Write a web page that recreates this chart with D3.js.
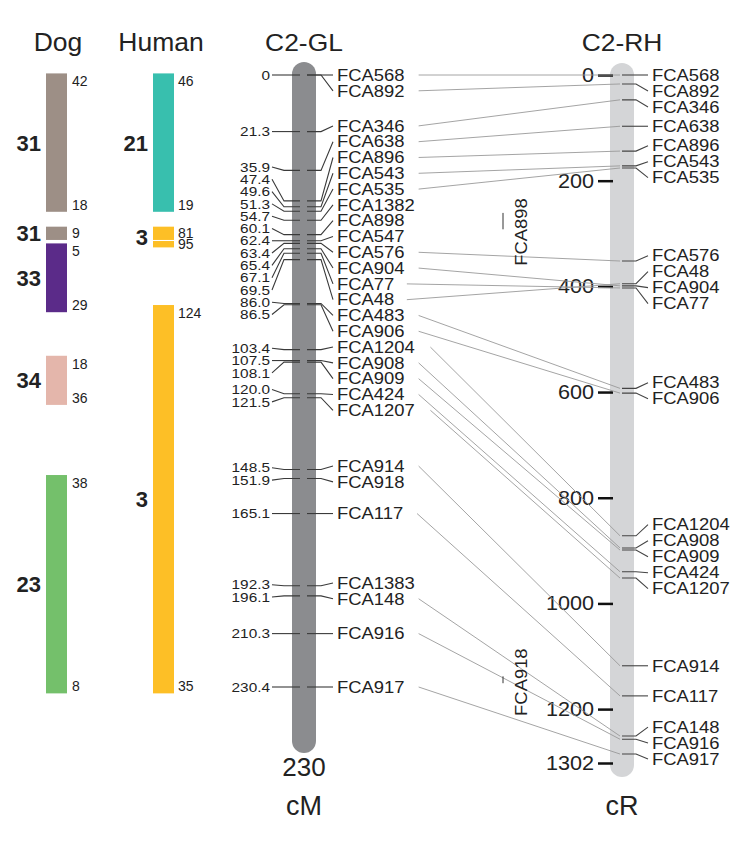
<!DOCTYPE html>
<html><head><meta charset="utf-8">
<script src="https://cdn.jsdelivr.net/npm/d3@7"></script>
<style>body{margin:0;background:#fff}svg{display:block}text{font-family:"Liberation Sans",Arial,sans-serif;fill:#222}</style>
</head><body>
<script>
// ---------- data ----------
const glMarkers = ["FCA568","FCA892","FCA346","FCA638","FCA896","FCA543","FCA535","FCA1382","FCA898","FCA547","FCA576","FCA904","FCA77","FCA48","FCA483","FCA906","FCA1204","FCA908","FCA909","FCA424","FCA1207","FCA914","FCA918","FCA117","FCA1383","FCA148","FCA916","FCA917"];
const glCM = [0,0,21.3,35.9,47.4,49.6,51.3,54.7,60.1,62.4,63.4,65.4,67.1,69.5,86.0,86.5,103.4,107.5,108.1,120.0,121.5,148.5,151.9,165.1,192.3,196.1,210.3,230.4];
const glLength = "230";
const rhMarkers = ["FCA568","FCA892","FCA346","FCA638","FCA896","FCA543","FCA535","FCA576","FCA48","FCA904","FCA77","FCA483","FCA906","FCA1204","FCA908","FCA909","FCA424","FCA1207","FCA914","FCA117","FCA148","FCA916","FCA917"];
const rhCR = [0,17,47,97,144,172,176,352,395,399,403,593,602,872,895,899,940,952,1118,1175,1251,1257,1285];
const rhTicks = [0,200,400,600,800,1000,1200,1302];
const rhFloating = ["FCA898","FCA918"];
const rhFloatingCR = [297,1149];
const rhFloatingBarFrom = [261,1138];
const rhFloatingBarTo = [292,1151];

const dogChr = ["31","31","33","34","23"];
const dogFrom = [-0.6,57.1,63.4,105.7,150.6];
const dogTo = [51.5,62.1,89.3,124.2,232.8];
const dogTopLbl = ["42","9","5","18","38"];
const dogBotLbl = ["18","","29","36","8"];

const humChr = ["21","3","3","3"];
const humFrom = [-0.6,57.1,62.5,86.6];
const humTo = [51.5,62.1,64.9,232.8];
const humTopLbl = ["46","81","95","124"];
const humBotLbl = ["19","","","35"];

// ---------- styles ----------
const dogColor = {"31":"#9d8f86","33":"#5b2b89","34":"#e4b6ab","23":"#74c06b"};
const humColor = {"21":"#38bfae","3":"#fdbf26"};

const W = 750, H = 841;
const svg = d3.select("body").append("svg").attr("width",W).attr("height",H);

const yGL = d3.scaleLinear().domain([0,230.4]).range([75,687]);
const yRH = d3.scaleLinear().domain([0,1302]).range([75,763]);

function stretch(sel,k){
  sel.each(function(){
    const w = this.getComputedTextLength();
    d3.select(this).attr("textLength",w*k).attr("lengthAdjust","spacingAndGlyphs");
  });
  return sel;
}
// non-overlapping label layout: clusters centred on mean or median of their targets
function spread(targets,gap,minY,mode){
  const centre = arr => {
    if(mode==="median"){ const s=arr.slice().sort((a,b)=>a-b),n=s.length; return n%2?s[(n-1)/2]:(s[n/2-1]+s[n/2])/2; }
    return d3.mean(arr);
  };
  const clusters=[];
  targets.forEach((t,i)=>{
    clusters.push({idx:[i],top:Math.max(minY,t)});
    while(clusters.length>1){
      const b=clusters[clusters.length-1],a=clusters[clusters.length-2];
      if(a.top+a.idx.length*gap>b.top+0.01){
        const idx=a.idx.concat(b.idx);
        let top=centre(idx.map(j=>targets[j]))-(idx.length-1)*gap/2;
        top=Math.max(minY,top);
        clusters.splice(-2,2,{idx,top});
      } else break;
    }
  });
  const pos=new Array(targets.length);
  clusters.forEach(c=>c.idx.forEach((i,k)=>pos[i]=c.top+k*gap));
  return pos;
}

// ---------- left panel: Dog / Human ----------
stretch(svg.append("text").attr("x",58).attr("y",51).attr("text-anchor","middle").attr("font-size",25).text("Dog"),1.06);
stretch(svg.append("text").attr("x",161).attr("y",51).attr("text-anchor","middle").attr("font-size",25).text("Human"),1.06);

function drawSpecies(chr,from,to,topL,botL,colors,x0,w,lblX,chrX){
  const g=svg.append("g");
  chr.forEach((c,i)=>{
    const y0=yGL(from[i]),y1=yGL(to[i]);
    g.append("rect").attr("x",x0).attr("y",y0).attr("width",w).attr("height",y1-y0).attr("fill",colors[c]);
    if(y1-y0<20){
      g.append("text").attr("x",lblX).attr("y",(y0+y1)/2).attr("dy","0.36em").attr("font-size",14).text(topL[i]);
    } else {
      g.append("text").attr("x",lblX).attr("y",y0+8).attr("dy","0.36em").attr("font-size",14).text(topL[i]);
      g.append("text").attr("x",lblX).attr("y",y1-7).attr("dy","0.36em").attr("font-size",14).text(botL[i]);
    }
  });
  const groups=[];
  chr.forEach((c,i)=>{
    const last=groups[groups.length-1];
    if(last&&last.c===c&&from[i]-last.to<1){last.to=to[i];}
    else groups.push({c,from:from[i],to:to[i]});
  });
  groups.forEach(gr=>{
    g.append("text").attr("x",chrX).attr("y",(yGL(gr.from)+yGL(gr.to))/2).attr("dy","0.36em")
      .attr("text-anchor","end").attr("font-size",22).attr("font-weight","bold").attr("fill","#111").text(gr.c);
  });
}
drawSpecies(dogChr,dogFrom,dogTo,dogTopLbl,dogBotLbl,dogColor,46,21,72,41);
drawSpecies(humChr,humFrom,humTo,humTopLbl,humBotLbl,humColor,153,21,178,148);

// ---------- C2-GL ----------
const glX=304;
stretch(svg.append("text").attr("x",glX).attr("y",51).attr("text-anchor","middle").attr("font-size",24).text("C2-GL"),1.1);
svg.append("rect").attr("x",glX-12).attr("y",yGL(0)-13).attr("width",24).attr("height",753-(yGL(0)-13)).attr("rx",12).attr("fill","#8b8c8f");
svg.append("text").attr("x",glX).attr("y",776).attr("text-anchor","middle").attr("font-size",26).text(glLength);
svg.append("text").attr("x",glX).attr("y",815).attr("text-anchor","middle").attr("font-size",27).text("cM");

const lineCol="#3a3a3a";
const uniqCM = Array.from(new Set(glCM));
const numPos = spread(uniqCM.map(yGL),12.3,75,"median");
uniqCM.forEach((v,i)=>{
  const ty=yGL(v),ly=numPos[i];
  svg.append("path").attr("d",`M${glX-4},${ty}L${glX-20},${ty}L${glX-32},${ly}`).attr("fill","none").attr("stroke",lineCol).attr("stroke-width",1.1);
  stretch(svg.append("text").attr("x",270).attr("y",ly).attr("dy","0.36em").attr("text-anchor","end").attr("font-size",13).text(v===0?"0":v.toFixed(1)),1.18);
});

const glPos = spread(glCM.map(yGL),15.8,75,"mean");
const glLabelEnd = {};
glMarkers.forEach((m,i)=>{
  const ty=yGL(glCM[i]),ly=glPos[i];
  svg.append("path").attr("d",`M${glX+3},${ty}L${glX+17},${ty}L${glX+29},${ly}`).attr("fill","none").attr("stroke",lineCol).attr("stroke-width",1.1);
  const t=svg.append("text").attr("x",337).attr("y",ly).attr("dy","0.36em").attr("font-size",16).text(m);
  stretch(t,1.15);
  glLabelEnd[m]={x:337+t.node().getComputedTextLength()*1.15,y:ly};
});

// ---------- C2-RH ----------
const rhX=622;
stretch(svg.append("text").attr("x",rhX).attr("y",51).attr("text-anchor","middle").attr("font-size",24).text("C2-RH"),1.1);
svg.append("rect").attr("x",rhX-12).attr("y",yRH(0)-12).attr("width",24).attr("height",777-(yRH(0)-12)).attr("rx",12).attr("fill","#d4d5d7");
svg.append("text").attr("x",rhX).attr("y",815).attr("text-anchor","middle").attr("font-size",27).text("cR");

const ax=svg.append("g").attr("transform","translate(613,0)")
  .call(d3.axisLeft(yRH).tickValues(rhTicks).tickSize(15).tickPadding(4).tickFormat(d3.format("d")));
ax.select(".domain").remove();
ax.selectAll(".tick line").attr("stroke","#111").attr("stroke-width",2.5);
ax.selectAll(".tick text").attr("font-size",20).attr("font-family","Liberation Sans, Arial, sans-serif").attr("fill","#222");
stretch(ax.selectAll(".tick text"),1.08);

const rhPos = spread(rhCR.map(yRH),16,75,"mean");
const conn=svg.append("g");
rhMarkers.forEach((m,i)=>{
  const e=glLabelEnd[m]; if(!e) return;
  conn.append("line").attr("x1",e.x+4).attr("y1",e.y).attr("x2",rhX-2).attr("y2",yRH(rhCR[i]))
    .attr("stroke","#9a9a9a").attr("stroke-width",0.9);
});
rhMarkers.forEach((m,i)=>{
  const ty=yRH(rhCR[i]),ly=rhPos[i];
  svg.append("path").attr("d",`M${rhX},${ty}L${rhX+14},${ty}L${rhX+26},${ly}`).attr("fill","none").attr("stroke","#444").attr("stroke-width",1.1);
  stretch(svg.append("text").attr("x",652).attr("y",ly).attr("dy","0.36em").attr("font-size",16).text(m),1.15);
});

rhFloating.forEach((m,i)=>{
  const cy=yRH(rhFloatingCR[i]);
  stretch(svg.append("text").attr("transform",`translate(527,${cy}) rotate(-90)`).attr("text-anchor","middle").attr("font-size",16).text(m),1.15);
  svg.append("line").attr("x1",503).attr("x2",503).attr("y1",yRH(rhFloatingBarFrom[i])).attr("y2",yRH(rhFloatingBarTo[i])).attr("stroke","#333").attr("stroke-width",1);
});
</script>
</body></html>
